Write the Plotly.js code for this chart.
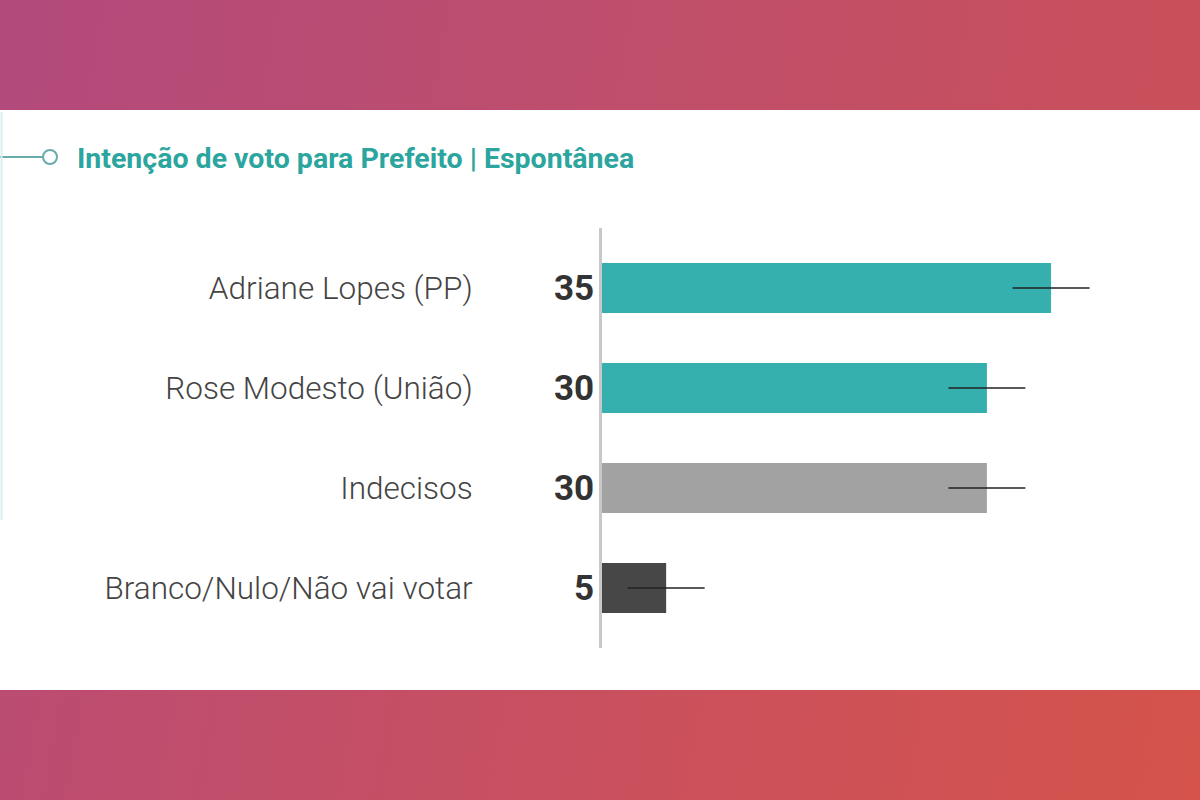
<!DOCTYPE html>
<html>
<head>
<meta charset="utf-8">
<script src="https://cdn.plot.ly/plotly-3.0.1.min.js"></script>
<style>
  html, body { margin:0; padding:0; width:1200px; height:800px; overflow:hidden; }
  #top { position:absolute; left:0; top:0; width:1200px; height:110px;
         background: linear-gradient(100deg, #b24a7c 0%, #be4e6c 50%, #c9505a 100%); }
  #mid { position:absolute; left:0; top:110px; width:1200px; height:580px; background:#ffffff; }
  #bot { position:absolute; left:0; top:690px; width:1200px; height:110px;
         background: linear-gradient(100deg, #bb4c72 0%, #c9505e 50%, #d5534b 100%); }
  #chart { position:absolute; left:0; top:0; width:1200px; height:800px; }
</style>
</head>
<body>
<div id="top"></div>
<div id="mid"></div>
<div id="bot"></div>
<div id="chart"></div>
<script>
const categories = ["Adriane Lopes (PP)", "Rose Modesto (União)", "Indecisos", "Branco/Nulo/Não vai votar"];
const values = [35, 30, 30, 5];
const margins = [3, 3, 3, 3];
const barColors = ["#36afaf", "#36afaf", "#a2a2a2", "#474747"];
const titleText = "Intenção de voto para Prefeito | Espontânea";

const W = 1200, H = 800;
const L = 602, R = 48, T = 228, B = 152;
const pw = W - L - R, ph = H - T - B;
const px = x => (x - L) / pw;
const py = y => 1 - (y - T) / ph;

const trace = {
  type: 'bar',
  orientation: 'h',
  x: values,
  y: categories,
  marker: { color: barColors, line: { width: 0 } },
  error_x: { type: 'data', array: margins, visible: true, color: '#222222', thickness: 1.6, width: 0 },
  hoverinfo: 'none'
};

const annotations = categories.map((c, i) => ({
  x: 0, y: c, xref: 'x', yref: 'y',
  text: String(values[i]),
  showarrow: false, xanchor: 'right', yanchor: 'middle', xshift: -6,
  font: { family: 'Roboto, Arial, sans-serif', size: 35, color: '#333333', weight: 700 }
}));

const shapes = [
  { type: 'line', xref: 'paper', yref: 'paper', x0: px(0), x1: px(43), y0: py(157), y1: py(157),
    line: { color: '#6aabab', width: 2 } },
  { type: 'circle', xref: 'paper', yref: 'paper', x0: px(43), x1: px(57), y0: py(150), y1: py(164),
    line: { color: '#6aabab', width: 2 }, fillcolor: '#ffffff' },
  { type: 'line', xref: 'paper', yref: 'paper', x0: px(1.5), x1: px(1.5), y0: py(112), y1: py(520),
    line: { color: '#d8f0f0', width: 2 } }
];

const layout = {
  width: W, height: H,
  margin: { l: L, r: R, t: T, b: B, pad: 0 },
  paper_bgcolor: 'rgba(0,0,0,0)',
  plot_bgcolor: 'rgba(0,0,0,0)',
  showlegend: false,
  bargap: 0.5,
  title: {
    text: titleText,
    xref: 'container', yref: 'container',
    x: 77 / W, y: 1 - 158 / H, xanchor: 'left', yanchor: 'middle',
    font: { family: 'Roboto, Arial, sans-serif', size: 28.5, color: '#2ba59e', weight: 700 }
  },
  xaxis: {
    range: [0, pw / 12.83],
    showgrid: false, zeroline: false, showline: false, showticklabels: false, ticks: ''
  },
  yaxis: {
    type: 'category',
    range: [3.6, -0.6],
    showgrid: false, zeroline: false,
    showline: true, linecolor: '#c8c8c8', linewidth: 3,
    ticks: '', ticklabelstandoff: 120,
    tickfont: { family: 'Roboto, Arial, sans-serif', size: 31.5, color: '#444444', weight: 300 }
  },
  annotations: annotations,
  shapes: shapes
};

Plotly.newPlot('chart', [trace], layout, { displayModeBar: false, staticPlot: true });
</script>
</body>
</html>
